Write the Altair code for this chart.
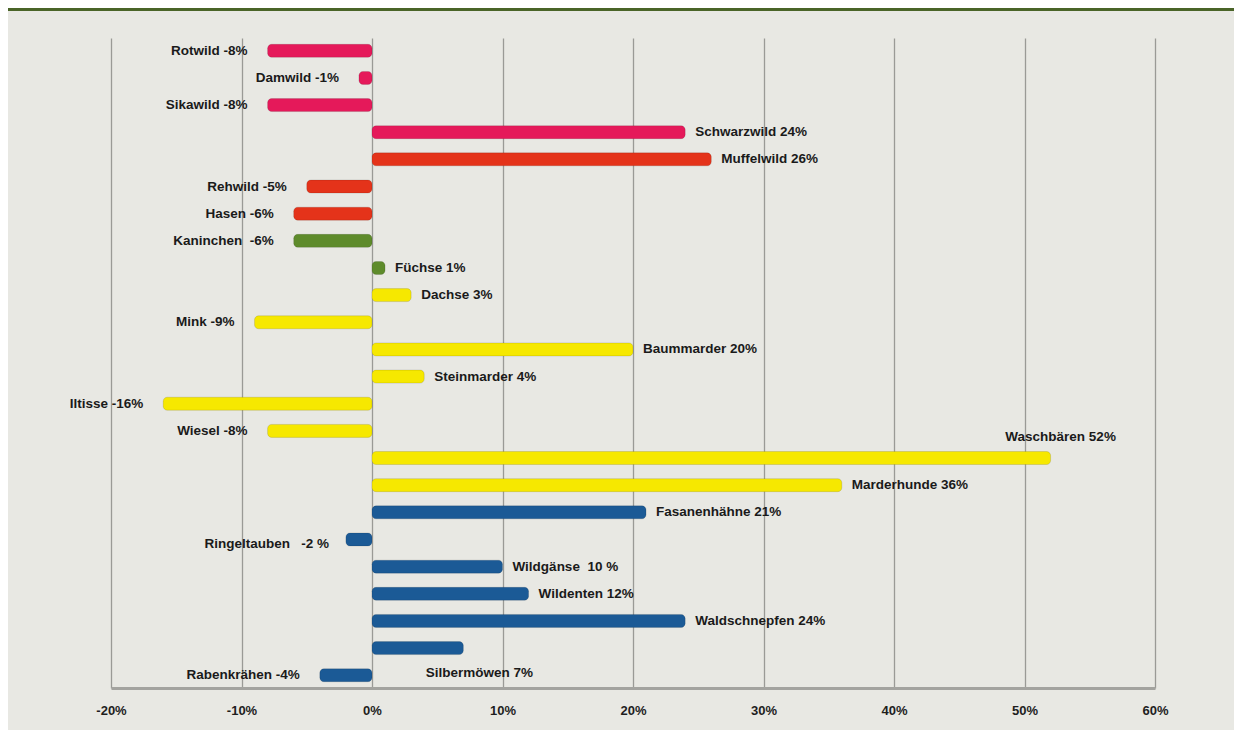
import altair as alt
import pandas as pd

categories = ["Rotwild", "Damwild", "Sikawild", "Schwarzwild", "Muffelwild", "Rehwild",
              "Hasen", "Kaninchen", "Füchse", "Dachse", "Mink", "Baummarder",
              "Steinmarder", "Iltisse", "Wiesel", "Waschbären", "Marderhunde",
              "Fasanenhähne", "Ringeltauben", "Wildgänse", "Wildenten", "Waldschnepfen",
              "Silbermöwen", "Rabenkrähen"]
values = [-8, -1, -8, 24, 26, -5, -6, -6, 1, 3, -9, 20, 4, -16, -8, 52, 36, 21, -2, 10, 12, 24, 7, -4]
labels = ["Rotwild -8%", "Damwild -1%", "Sikawild -8%", "Schwarzwild 24%", "Muffelwild 26%",
          "Rehwild -5%", "Hasen -6%", "Kaninchen\u00a0 -6%", "Füchse 1%", "Dachse 3%", "Mink -9%",
          "Baummarder 20%", "Steinmarder 4%", "Iltisse -16%", "Wiesel -8%", "Waschbären 52%",
          "Marderhunde 36%", "Fasanenhähne 21%", "Ringeltauben\u00a0\u00a0 -2 %", "Wildgänse\u00a0 10 %",
          "Wildenten 12%", "Waldschnepfen 24%", "Silbermöwen 7%", "Rabenkrähen -4%"]
groups = ["pink", "pink", "pink", "pink", "red", "red", "red", "green", "green",
          "yellow", "yellow", "yellow", "yellow", "yellow", "yellow", "yellow", "yellow",
          "blue", "blue", "blue", "blue", "blue", "blue", "blue"]
group_domain = ["pink", "red", "green", "yellow", "blue"]
group_colors = ["#e5195a", "#e4331a", "#5e8b2b", "#f6e800", "#1b5a96"]
x_ticks = [-20, -10, 0, 10, 20, 30, 40, 50, 60]

df = pd.DataFrame({"cat": categories, "value": values, "label": labels, "group": groups})

FONT = "Liberation Sans"
W, H = 1044, 650

x_enc = alt.X("value:Q",
              scale=alt.Scale(domain=[-20, 60], nice=False, zero=False),
              axis=alt.Axis(values=x_ticks, labelExpr="datum.value + '%'", title=None,
                            grid=True, gridColor="#9a9a96", gridWidth=1.3,
                            domain=True, domainColor="#a3a39f", domainWidth=3,
                            ticks=False, labelPadding=16, labelFont=FONT, labelFontSize=13,
                            labelFontWeight="bold", labelColor="#1e1e1e", labelBound=False,
                            labelFlush=False))
y_enc = alt.Y("cat:N", sort=categories,
              scale=alt.Scale(paddingOuter=0.02),
              axis=None)

bars = alt.Chart(df).mark_bar(size=13, cornerRadius=4, stroke="#000000",
                              strokeOpacity=0.12, strokeWidth=1).encode(
    x=x_enc,
    x2=alt.datum(0),
    y=y_enc,
    color=alt.Color("group:N", scale=alt.Scale(domain=group_domain, range=group_colors),
                    legend=None),
)

not_special = "datum.cat !== 'Waschbären' && datum.cat !== 'Silbermöwen' && datum.cat !== 'Ringeltauben'"
txt_style = dict(font=FONT, fontSize=13.5, fontWeight="bold", color="#1a1a1a", baseline="middle")

neg_lbl = alt.Chart(df).transform_filter(
    "datum.value < 0 && " + not_special
).mark_text(align="right", dx=-20, **txt_style).encode(
    x=alt.X("value:Q"), y=alt.Y("cat:N", sort=categories), text="label:N")

pos_lbl = alt.Chart(df).transform_filter(
    "datum.value > 0 && " + not_special
).mark_text(align="left", dx=10, **txt_style).encode(
    x=alt.X("value:Q"), y=alt.Y("cat:N", sort=categories), text="label:N")

wasch_lbl = alt.Chart(df).transform_filter("datum.cat === 'Waschbären'").mark_text(
    align="center", dx=10, dy=-21, **txt_style).encode(
    x=alt.X("value:Q"), y=alt.Y("cat:N", sort=categories), text="label:N")

silber_lbl = alt.Chart(df).transform_filter("datum.cat === 'Silbermöwen'").mark_text(
    align="center", dx=16, dy=25, **txt_style).encode(
    x=alt.X("value:Q"), y=alt.Y("cat:N", sort=categories), text="label:N")

ringel_lbl = alt.Chart(df).transform_filter("datum.cat === 'Ringeltauben'").mark_text(
    align="right", dx=-17, dy=5, **txt_style).encode(
    x=alt.X("value:Q"), y=alt.Y("cat:N", sort=categories), text="label:N")

strip = alt.Chart(df).transform_filter("datum.cat === 'Rotwild'").mark_rect(
    color="#4a6428").encode(
    x=alt.value(-103), x2=alt.value(W + 79), y=alt.value(-30), y2=alt.value(-27))

chart = alt.layer(strip, bars, neg_lbl, pos_lbl, wasch_lbl, silber_lbl, ringel_lbl).properties(
    width=W, height=H,
    autosize=alt.AutoSizeParams(type="none"),
    padding={"left": 103, "top": 30, "right": 79, "bottom": 42},
    background="#e8e8e3",
).configure_view(stroke=None)

chart.save("out.html", embed_options={"renderer": "svg", "actions": False})
